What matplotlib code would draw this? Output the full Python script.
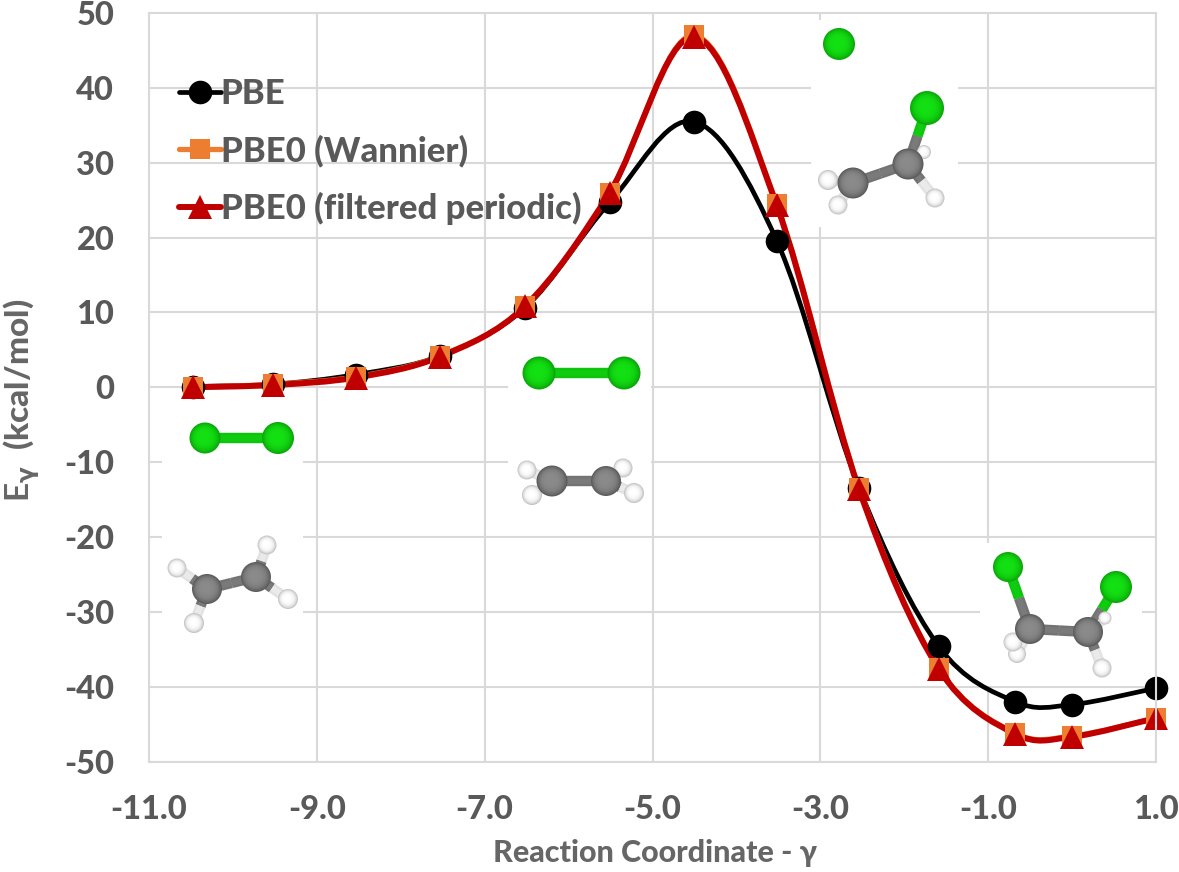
import numpy as np
import matplotlib
matplotlib.use('Agg')
import matplotlib.pyplot as plt
from matplotlib.path import Path
from matplotlib.patches import PathPatch, Rectangle, Circle

plt.rcParams['font.family'] = ['Lato', 'DejaVu Sans']
plt.rcParams['font.weight'] = 900
plt.rcParams['axes.unicode_minus'] = False
plt.rcParams['mathtext.fontset'] = 'custom'
plt.rcParams['mathtext.rm'] = 'Lato:bold'
plt.rcParams['mathtext.bf'] = 'Lato:bold'
plt.rcParams['mathtext.it'] = 'DejaVu Sans:bold'

# reaction coordinate and energies
gamma = [-10.48, -9.52, -8.53, -7.53, -6.52, -5.51, -4.51, -3.52, -2.54, -1.59, -0.68, 0.0, 1.0]
pbe = [0.1, 0.4, 1.7, 4.2, 10.6, 24.7, 35.5, 19.6, -13.4, -34.6, -42.0, -42.4, -40.2]
pbe0_wannier = [0.0, 0.4, 1.4, 4.2, 10.8, 26.0, 47.0, 24.5, -13.4, -37.5, -46.2, -46.6, -44.2]
pbe0_filtered = [0.0, 0.3, 1.3, 4.1, 10.8, 26.0, 46.8, 24.3, -13.6, -37.6, -46.3, -46.7, -44.2]

x_ticks = [-11, -9, -7, -5, -3, -1, 1]
x_labels = ['-11.0', '-9.0', '-7.0', '-5.0', '-3.0', '-1.0', '1.0']
y_ticks = [-50, -40, -30, -20, -10, 0, 10, 20, 30, 40, 50]

GRID = '#d9d9d9'
TEXT = '#595959'
LABEL = '#666666'
W, H = 1179, 872

# molecule pictures, in image pixels
CL = ('#0aa80a', '#12e012')
C = ('#5c5c5c', '#8a8a8a')
HY = ('#c4c4c4', '#ffffff')
white_boxes = [(162, 415, 303, 640), (508, 355, 651, 515), (811, 20, 958, 227), (980, 543, 1142, 686)]
atoms = [
    (205, 438, 15.5, CL), (278, 438, 16, CL),
    (177, 568, 9.5, HY), (194, 623, 10, HY), (267, 545, 9.5, HY), (288, 599, 10, HY),
    (207, 589, 15, C), (256, 577, 15, C),
    (539, 373, 16.5, CL), (624, 373, 16.5, CL),
    (623, 468, 9.5, HY), (527, 470, 9.5, HY), (532, 495, 10, HY), (634, 493, 10, HY),
    (552, 481, 15.5, C), (606, 481, 15, C),
    (839, 44, 16, CL), (927, 108, 17, CL),
    (924, 152, 7, HY), (828, 180, 10, HY), (838, 205, 9.5, HY), (935, 198, 9.5, HY),
    (853, 183, 15.5, C), (908, 164, 15.5, C),
    (1008, 567, 15, CL), (1116, 587, 16, CL),
    (1105, 618, 6.5, HY), (1017, 654, 9, HY), (1013, 642, 9.5, HY), (1102, 668, 9.5, HY),
    (1030, 629, 15, C), (1088, 632, 15, C),
]
# x1, y1, x2, y2, colour at 1, colour at 2
bonds = [
    (205, 438, 278, 438, CL, CL),
    (207, 589, 256, 577, C, C), (207, 589, 177, 568, C, HY), (207, 589, 194, 623, C, HY),
    (256, 577, 267, 545, C, HY), (256, 577, 288, 599, C, HY),
    (539, 373, 624, 373, CL, CL),
    (552, 481, 606, 481, C, C), (552, 481, 527, 470, C, HY), (552, 481, 532, 495, C, HY),
    (606, 481, 623, 468, C, HY), (606, 481, 634, 493, C, HY),
    (853, 183, 908, 164, C, C), (908, 164, 927, 108, C, CL), (853, 183, 828, 180, C, HY),
    (853, 183, 838, 205, C, HY), (908, 164, 935, 198, C, HY), (908, 164, 924, 152, C, HY),
    (1030, 629, 1088, 632, C, C), (1030, 629, 1008, 567, C, CL), (1088, 632, 1116, 587, C, CL),
    (1030, 629, 1013, 642, C, HY), (1030, 629, 1017, 654, C, HY),
    (1088, 632, 1102, 668, C, HY), (1088, 632, 1105, 618, C, HY),
]


def smooth_path(xs, ys):
    # same kind of bezier smoothing a spreadsheet line uses
    pts = np.column_stack([xs, ys])
    n = len(pts)
    verts = [pts[0]]
    codes = [Path.MOVETO]
    for i in range(n - 1):
        t0 = (pts[i + 1] - pts[max(i - 1, 0)]) / 6
        t1 = (pts[min(i + 2, n - 1)] - pts[i]) / 6
        verts += [pts[i] + t0, pts[i + 1] - t1, pts[i + 1]]
        codes += [Path.CURVE4] * 3
    return Path(verts, codes)


def draw_ball(ov, x, y, r, colors):
    edge = np.array(matplotlib.colors.to_rgb(colors[0]))
    centre = np.array(matplotlib.colors.to_rgb(colors[1]))
    for f in np.linspace(1, 0.15, 12):
        shade = centre + (edge - centre) * f ** 4
        ov.add_patch(Circle((x - r * (1 - f) * 0.12, y - r * (1 - f) * 0.12), r * f, color=shade, lw=0, zorder=3))


def bond_colour(colors):
    a = np.array(matplotlib.colors.to_rgb(colors[0]))
    b = np.array(matplotlib.colors.to_rgb(colors[1]))
    return (a + b) / 2, b * 0.3 + (a + b) / 2 * 0.7


fig = plt.figure(figsize=(W / 100, H / 100), dpi=100)
ax = fig.add_axes([149 / W, 1 - 761.5 / H, (1156 - 149) / W, (761.5 - 13) / H])
ov = fig.add_axes([0, 0, 1, 1], zorder=5)
ov.set_xlim(0, W)
ov.set_ylim(H, 0)
ov.axis('off')

ax.set_xlim(-11, 1)
ax.set_ylim(-50, 50)
ax.set_axisbelow(True)
ax.grid(True, color=GRID, lw=1.5)
for s in ax.spines.values():
    s.set_color(GRID)
    s.set_linewidth(1.5)
ax.set_xticks(x_ticks, x_labels)
ax.set_yticks(y_ticks)
ax.tick_params(length=0, labelsize=23.5, labelcolor=TEXT)
ax.tick_params(axis='x', pad=24)
ax.tick_params(axis='y', pad=25)

for x0, y0, x1, y1 in white_boxes:
    ax.add_patch(Rectangle((x0, y0), x1 - x0, y1 - y0, transform=ov.transData, color='white',
                           lw=0, zorder=1.5))

series = [
    ('PBE', pbe, 'black', 'black', 'o', 17, 3.4),
    ('PBE0 (Wannier)', pbe0_wannier, '#ed7d31', '#ed7d31', 's', 14.5, 3.8),
    ('PBE0 (filtered periodic)', pbe0_filtered, '#c00000', '#c00000', '^', 17, 4.3),
]
for label, values, line_col, marker_col, marker, ms, lw in series:
    ax.add_patch(PathPatch(smooth_path(gamma, values), fc='none', ec=line_col, lw=lw, zorder=2))
    ax.plot(gamma, values, ls='none', marker=marker, ms=ms, color=marker_col, mew=0, zorder=2.5, clip_on=False)

# legend entries: dummy lines carry both the line and the marker
handles = [plt.Line2D([], [], color=c, lw=lw, marker=m, ms=ms, mew=0, solid_capstyle='round')
           for _, _, c, _, m, ms, lw in series]
leg = ax.legend(handles, [s[0] for s in series], loc='upper left', bbox_to_anchor=(179 / W, 1 - 78 / H),
                bbox_transform=fig.transFigure, frameon=False, fontsize=25, handlelength=1.2,
                handletextpad=0.0, labelspacing=0.71, borderpad=0, borderaxespad=0)
for t in leg.get_texts():
    t.set_color(TEXT)

fig.text(655 / W, 1 - 853 / H, 'Reaction Coordinate - γ', ha='center', va='center', fontsize=22, color=LABEL)
fig.text(22 / W, 1 - 400 / H, r'$\mathrm{E}_{\gamma}$  (kcal/mol)', rotation=90, ha='center', va='center',
         fontsize=24, color=LABEL)

for x1, y1, x2, y2, c1, c2 in bonds:
    mx, my = (x1 + x2) / 2, (y1 + y2) / 2
    lw1 = 7.5
    out1, in1 = bond_colour(c1)
    out2, in2 = bond_colour(c2)
    ov.plot([x1, mx], [y1, my], color=out1, lw=lw1, solid_capstyle='butt', zorder=2)
    ov.plot([mx, x2], [my, y2], color=out2, lw=lw1, solid_capstyle='butt', zorder=2)
    ov.plot([x1, mx], [y1, my], color=in1, lw=lw1 * 0.55, solid_capstyle='butt', zorder=2.1)
    ov.plot([mx, x2], [my, y2], color=in2, lw=lw1 * 0.55, solid_capstyle='butt', zorder=2.1)
for x, y, r, col in atoms:
    draw_ball(ov, x, y, r, col)

fig.savefig('out.png', dpi=100)
